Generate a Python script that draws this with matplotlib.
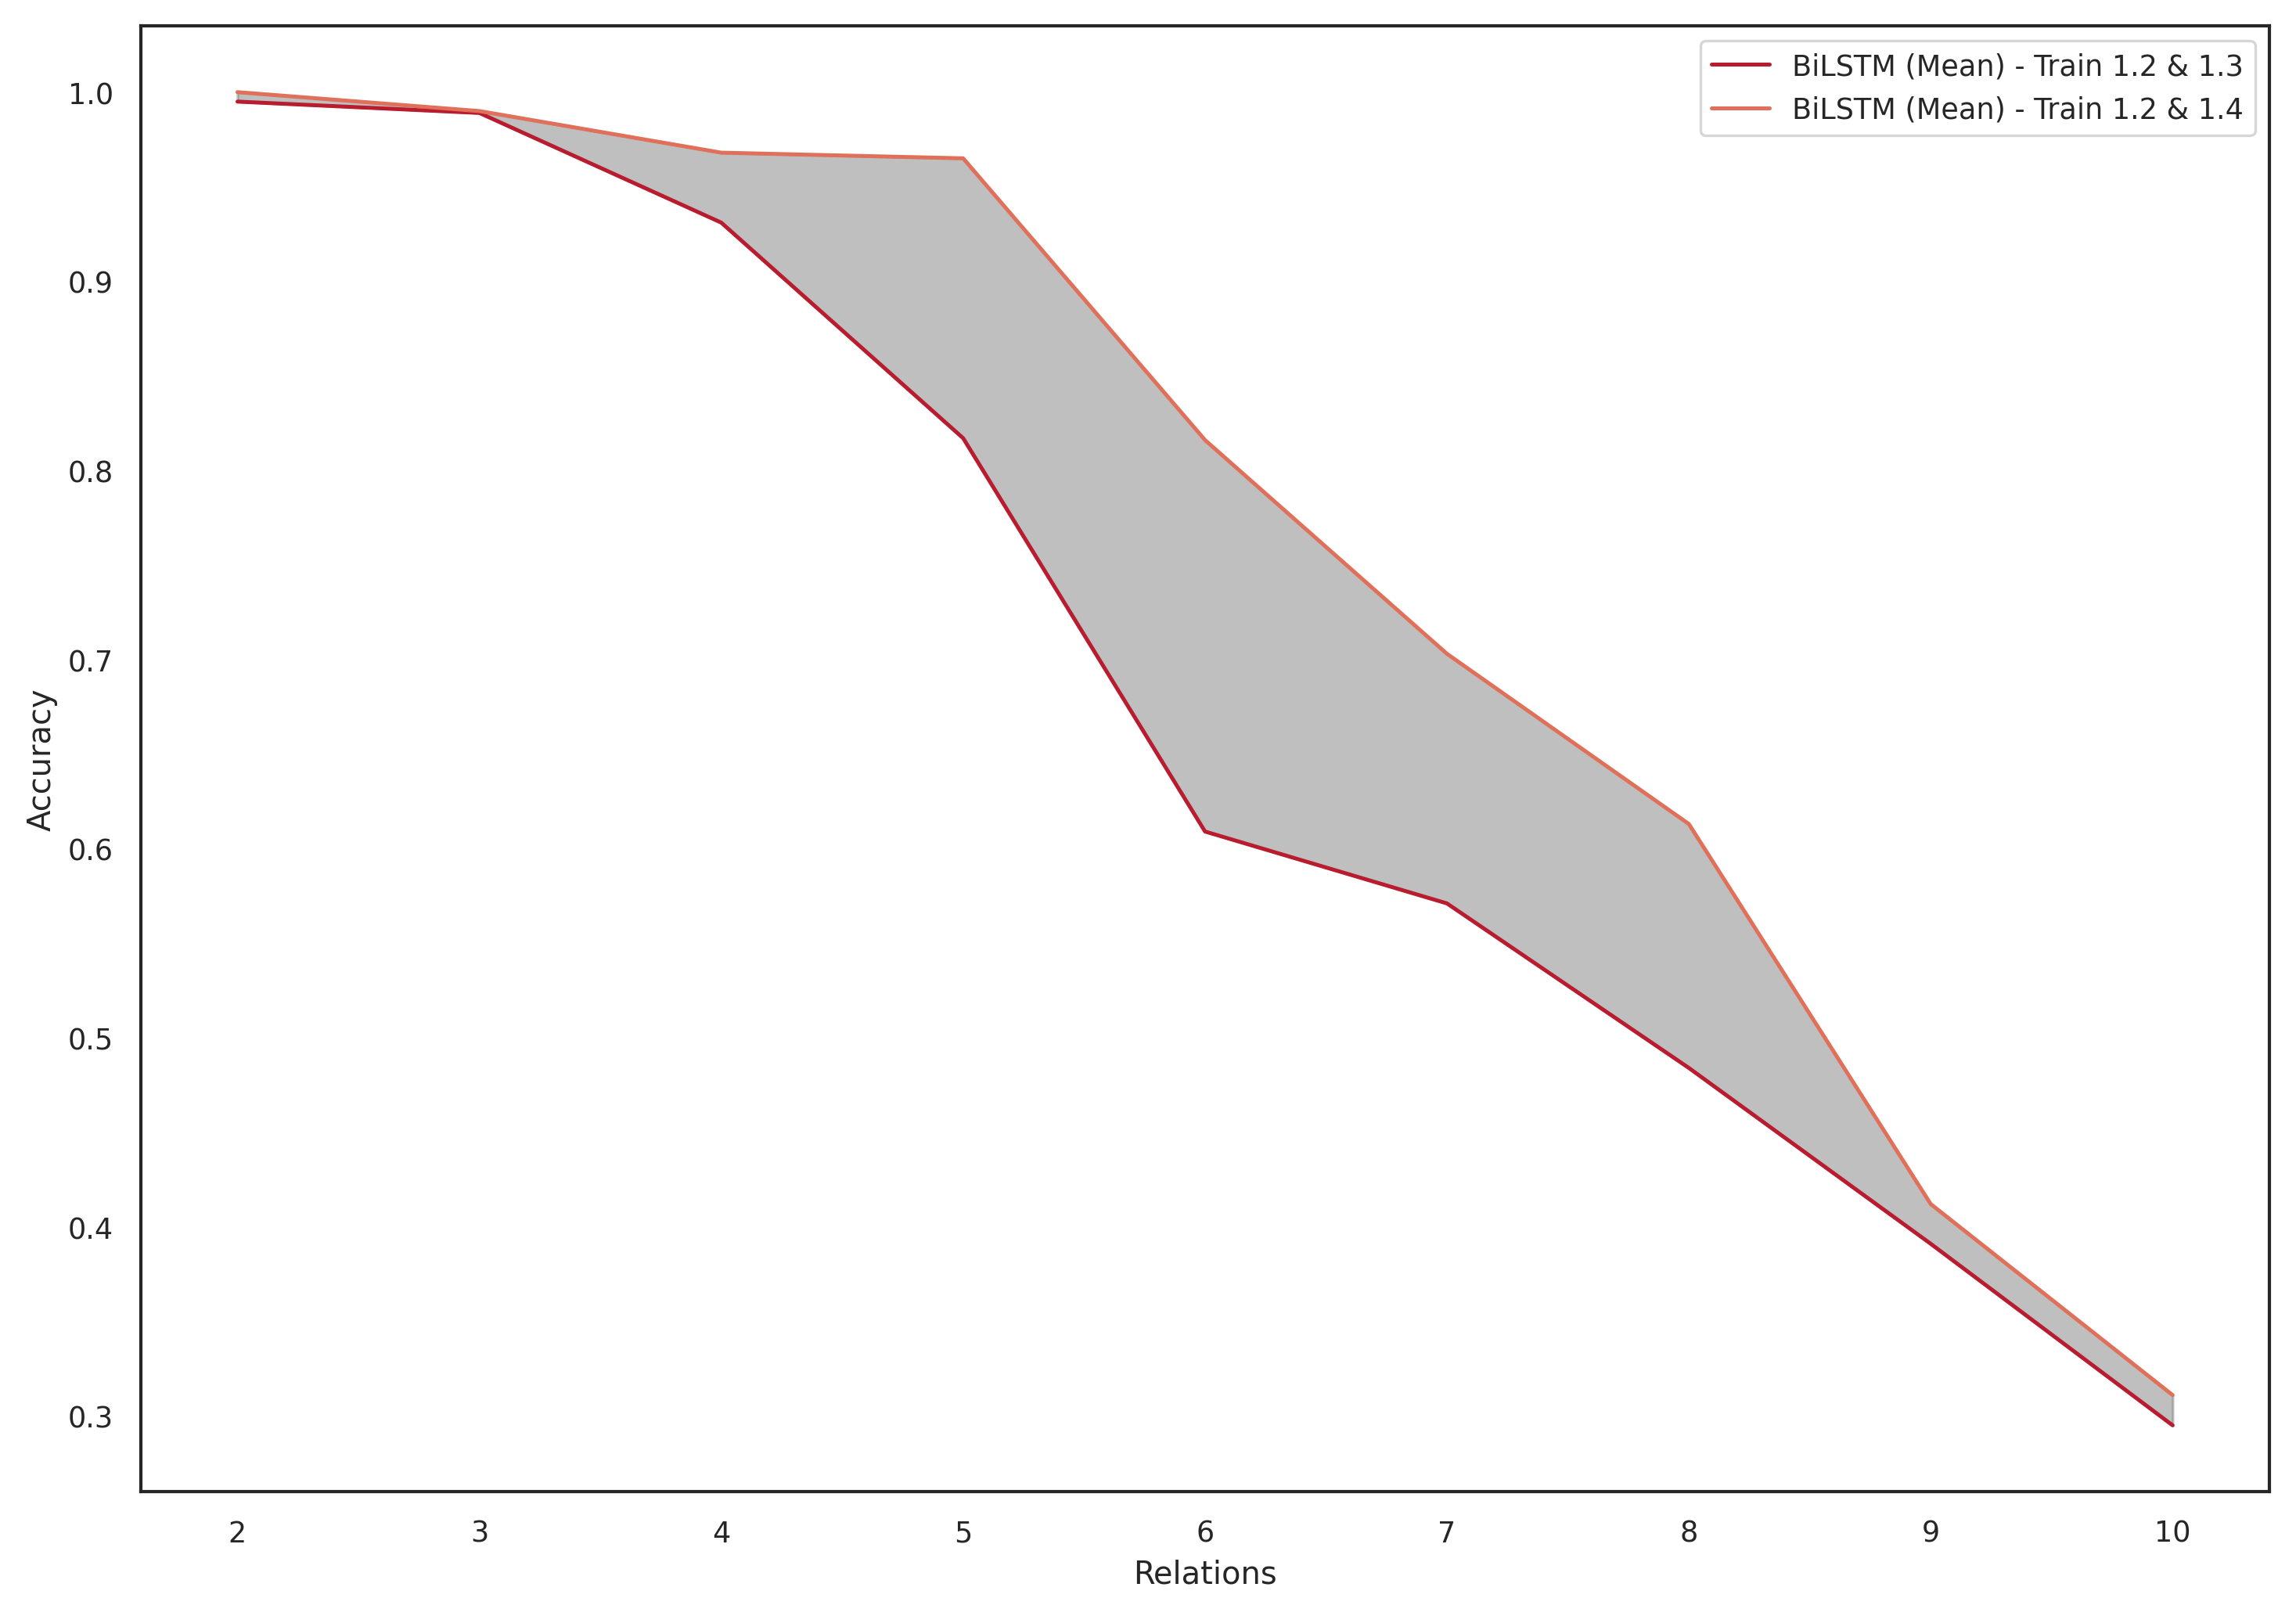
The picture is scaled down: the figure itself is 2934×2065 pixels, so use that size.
import numpy as np
import matplotlib
matplotlib.use("Agg")
import matplotlib.pyplot as plt
import seaborn as sns

relations = [2, 3, 4, 5, 6, 7, 8, 9, 10]
acc_13 = [0.995, 0.989, 0.931, 0.817, 0.609, 0.571, 0.484, 0.391, 0.295]
acc_14 = [1.000, 0.990, 0.968, 0.965, 0.816, 0.703, 0.613, 0.412, 0.311]
labels = ["BiLSTM (Mean) - Train 1.2 & 1.3", "BiLSTM (Mean) - Train 1.2 & 1.4"]

sns.set_style("white")
plt.rcParams['font.family'] = ['DejaVu Sans']

fig, ax = plt.subplots(figsize=(12.225, 8.608))
fig.subplots_adjust(left=0.0613, right=0.9884, top=0.9835, bottom=0.077)

ax.plot(relations, acc_13, color='#b81c2e', lw=1.5, label=labels[0])
ax.plot(relations, acc_14, color='#e0705a', lw=1.5, label=labels[1])
ax.fill_between(relations, acc_13, acc_14, color='grey', alpha=0.5)

ax.set_xticks(relations)
ax.set_yticks([0.3, 0.4, 0.5, 0.6, 0.7, 0.8, 0.9, 1.0])
ax.set_ylim(0.26, 1.035)
ax.set_xlim(1.6, 10.4)
ax.tick_params(labelsize=11, pad=7)
ax.set_xlabel("Relations", fontsize=12)
ax.set_ylabel("Accuracy", fontsize=12)
ax.legend(loc='upper right', fontsize=11)
for s in ax.spines.values():
    s.set_color('#262626')
    s.set_linewidth(1.25)

fig.savefig("out.png", dpi=240)
